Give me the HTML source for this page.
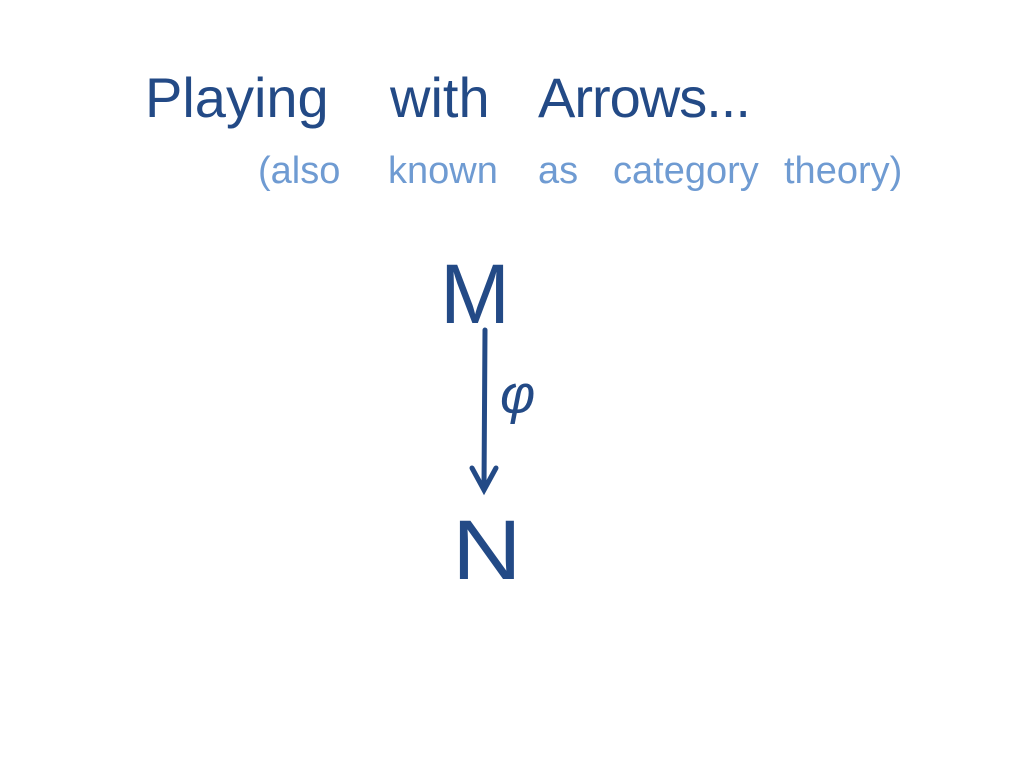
<!DOCTYPE html>
<html><head><meta charset="utf-8"><style>
html,body{margin:0;padding:0;background:#fff;}
body{width:1024px;height:768px;position:relative;overflow:hidden;font-family:"Liberation Sans",sans-serif;}
.t{position:absolute;color:#234a86;font-size:56px;line-height:1;white-space:nowrap;letter-spacing:0px;}
.s{position:absolute;color:#6f9bd2;font-size:38px;line-height:1;white-space:nowrap;letter-spacing:0px;}
.b{position:absolute;color:#234a86;line-height:1;}
</style></head><body>
<div class="t" style="left:145px;top:70px;">Playing</div>
<div class="t" style="left:390px;top:70px;">with</div>
<div class="t" style="left:538px;top:70px;letter-spacing:-1px;">Arrows...</div>
<div class="s" style="left:258px;top:152px;">(also</div>
<div class="s" style="left:388px;top:152px;">known</div>
<div class="s" style="left:538px;top:152px;">as</div>
<div class="s" style="left:613px;top:152px;">category</div>
<div class="s" style="left:784px;top:152px;">theory)</div>
<div class="b" style="left:440px;top:252px;font-size:84px;">M</div>
<div class="b" style="left:452px;top:508px;font-size:84px;transform:scaleX(1.15);transform-origin:left;">N</div>
<div class="b" style="left:500px;top:368px;font-size:54px;font-style:italic;">φ</div>
<svg width="1024" height="768" style="position:absolute;left:0;top:0">
<g stroke="#234a86" stroke-width="5" stroke-linecap="round" fill="none">
<line x1="485" y1="330" x2="484" y2="488"/>
<polyline points="472,468 484,490 496,468"/>
</g></svg>
</body></html>
